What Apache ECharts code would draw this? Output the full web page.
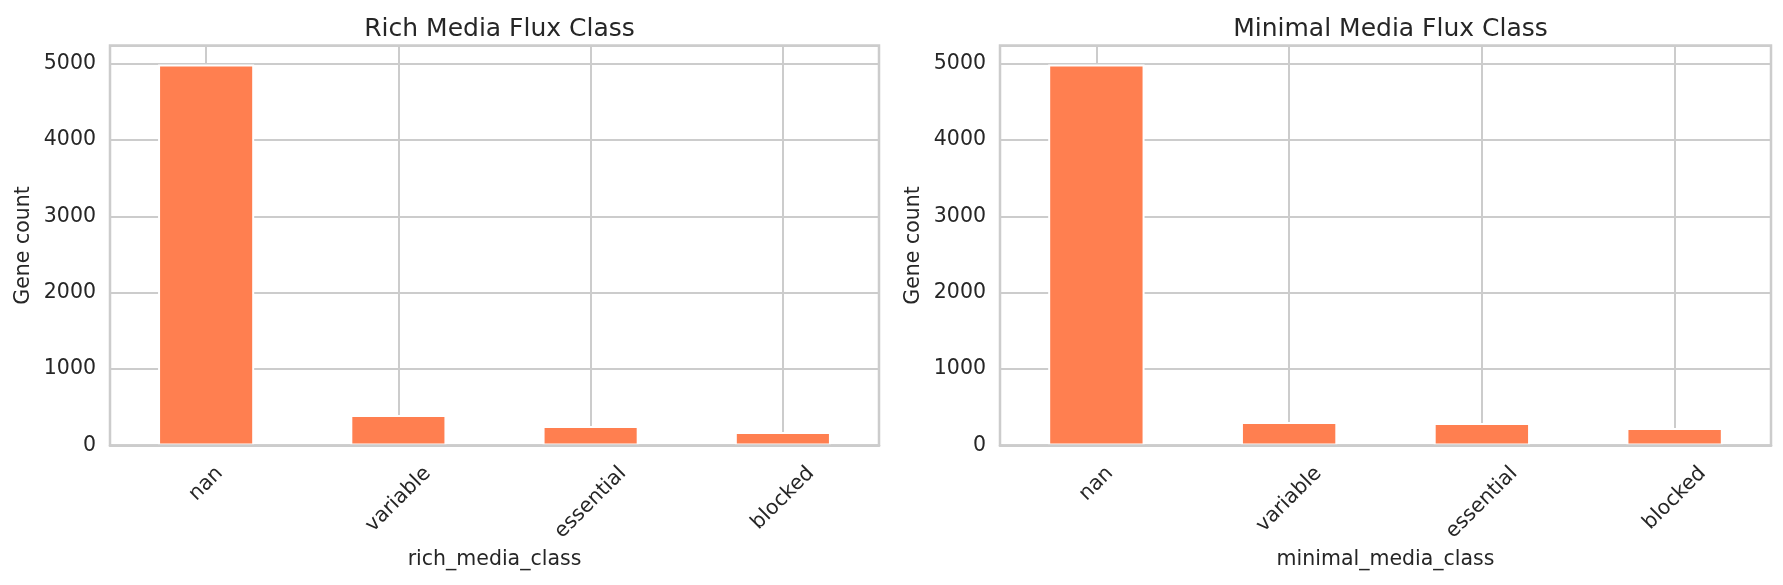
<!DOCTYPE html>
<html><head><meta charset="utf-8">
<script src="https://cdn.jsdelivr.net/npm/echarts@6/dist/echarts.min.js"></script>
<style>html,body{margin:0;padding:0;background:#fff}#c{width:1783px;height:585px}</style>
</head><body><div id="c"></div>
<script>
// ---- data ----
const categories = ['nan', 'variable', 'essential', 'blocked'];
const richValues = [4985, 399, 255, 177];
const minimalValues = [4985, 308, 294, 229];
const panelTitles = ['Rich Media Flux Class', 'Minimal Media Flux Class'];
const xAxisNames = ['rich_media_class', 'minimal_media_class'];
const yAxisName = 'Gene count';
const yTickStep = 1000;
const yMax = 5235;

// ---- style ----
const FONT = '"DejaVu Sans", sans-serif';
const FS = 20.5;
const TXT = '#262626';
const GRIDC = '#cccccc';
const BAR = '#FF7F50';
const LABEL_MARGIN = 4;

const grids = [
  {left: 110, right: 904, top: 45.5, bottom: 139.5},
  {left: 1000, right: 12, top: 45.5, bottom: 139.5}
];

// rotated labels centred under their ticks (matplotlib-like)
const ctx = document.createElement('canvas').getContext('2d');
ctx.font = FS + 'px "DejaVu Sans"';
const rich = {};
categories.forEach((c, i) => {
  const w = ctx.measureText(c).width;
  const s = 24.7 + w / (2 * Math.SQRT2) - LABEL_MARGIN;
  const p = Math.SQRT2 * s;
  rich['t' + i] = {fontSize: FS, fontFamily: FONT, color: TXT, padding: [p, p, 0, 0]};
});

const chart = echarts.init(document.getElementById('c'), null, {renderer: 'canvas'});
const seriesData = [richValues, minimalValues];

const mainX = grids.map((g, i) => ({
  type: 'category',
  gridIndex: i,
  data: categories,
  name: xAxisNames[i],
  nameLocation: 'middle',
  nameGap: 100,
  nameTextStyle: {fontFamily: FONT, fontSize: FS, color: TXT},
  axisLine: {show: false},
  axisTick: {show: false, alignWithLabel: true},
  splitLine: {show: true, alignWithLabel: true, lineStyle: {color: GRIDC, width: 2}},
  axisLabel: {
    interval: 0,
    hideOverlap: false,
    rotate: 45,
    align: 'center',
    verticalAlign: 'middle',
    margin: LABEL_MARGIN,
    fontFamily: FONT, fontSize: FS, color: TXT,
    formatter: (v) => '{t' + categories.indexOf(v) + '|' + v + '}',
    rich: rich
  }
}));
// bottom spine drawn above the bars (as in matplotlib)
const spineX = grids.map((g, i) => ({
  type: 'category',
  gridIndex: i,
  data: categories,
  position: 'bottom',
  z: 10,
  axisLine: {show: true, onZero: false, lineStyle: {color: GRIDC, width: 2.5}},
  axisTick: {show: false},
  axisLabel: {show: false},
  splitLine: {show: false}
}));

const option = {
  backgroundColor: '#fff',
  animation: false,
  title: panelTitles.map((t, i) => ({
    text: t,
    left: grids[i].left + (1783 - grids[i].left - grids[i].right) / 2,
    textAlign: 'center',
    top: 12,
    textStyle: {fontFamily: FONT, fontSize: 25, fontWeight: 'normal', color: TXT}
  })),
  grid: grids.map(g => Object.assign({show: true, borderColor: GRIDC, borderWidth: 2.5,
    backgroundColor: 'transparent', containLabel: false, outerBoundsMode: 'none'}, g)),
  xAxis: mainX.concat(spineX),
  yAxis: grids.map((g, i) => ({
    type: 'value',
    gridIndex: i,
    min: 0,
    max: yMax,
    interval: yTickStep,
    name: yAxisName,
    nameLocation: 'middle',
    nameGap: 76,
    nameTextStyle: {fontFamily: FONT, fontSize: FS, color: TXT},
    axisLine: {show: false},
    axisTick: {show: false},
    splitLine: {show: true, lineStyle: {color: GRIDC, width: 2}},
    axisLabel: {
      margin: 14,
      showMaxLabel: false,
      fontFamily: FONT, fontSize: FS, color: TXT,
      formatter: v => (v % yTickStep === 0 ? String(v) : '')
    }
  })),
  series: seriesData.map((d, i) => ({
    type: 'bar',
    xAxisIndex: i,
    yAxisIndex: i,
    data: d,
    barWidth: '50%',
    itemStyle: {color: BAR, borderColor: '#ffffff', borderWidth: 2}
  }))
};
chart.setOption(option);
</script>
</body></html>
